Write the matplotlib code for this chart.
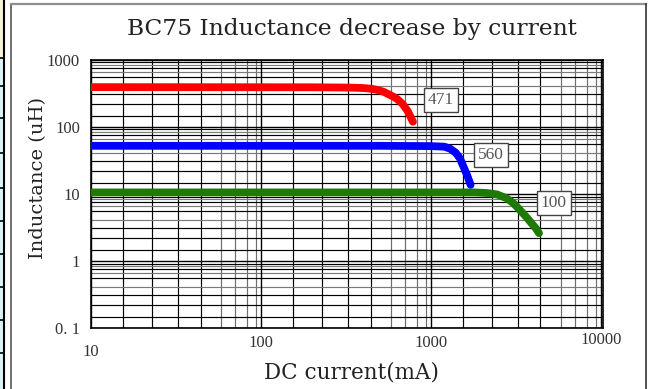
import matplotlib
matplotlib.use("Agg")
import matplotlib.pyplot as plt
from matplotlib.lines import Line2D
from matplotlib.patches import Rectangle
import matplotlib.transforms as mtransforms

# ---- data ----
red_x = [10, 200, 330, 400, 450, 490, 530, 580, 630, 680, 730, 784]
red_y = [390, 388, 384, 378, 368, 352, 330, 295, 262, 220, 172, 119]
blue_x = [10, 500, 1000, 1200, 1300, 1400, 1480, 1560, 1640, 1713]
blue_y = [52, 52, 51.5, 50.5, 47, 41, 34, 25, 18.5, 13.6]
green_x = [10, 1000, 1800, 2130, 2450, 2790, 3050, 3340, 3620, 3910, 4130, 4330]
green_y = [10.5, 10.5, 10.5, 10.3, 9.8, 8.6, 7.3, 5.75, 4.6, 3.65, 3.1, 2.59]
series_labels = ["471", "560", "100"]
label_pos = [(1146, 250), (2254, 38), (5297, 7.3)]

x_major = [10, 100, 1000, 10000]
x_major_labels = ["10", "100", "1000", "10000"]
y_major = [0.1, 1, 10, 100, 1000]
y_major_labels = ["0. 1", "1", "10", "100", "1000"]
grid_mult_x = [1.535, 2.275, 3.236, 4.416, 5.834, 7.047, 8.279, 9.311]
grid_mult_y = [1.466, 2.173, 3.069, 4.074, 5.495, 6.607, 7.499, 8.318, 9.12]

W, H = 654, 389
fig = plt.figure(figsize=(W / 100, H / 100), dpi=100)
fig.patch.set_facecolor("white")

# ---- page decorations (frame and left fragment) ----
def fx(px):
    return px / W

def fy(py):
    return 1 - py / H

fig.add_artist(Rectangle((0, fy(58)), fx(4), 58 / H, transform=fig.transFigure,
                         facecolor="#f4f4d8", edgecolor="none"))
fig.add_artist(Rectangle((0, 0), fx(4), fy(58), transform=fig.transFigure,
                         facecolor="#def3f3", edgecolor="none"))
fig.add_artist(Line2D([fx(4), fx(4)], [0, 1], transform=fig.transFigure, color="black", lw=1.5))
for yy in [58, 86, 118, 153, 188, 221, 254, 287, 320, 353]:
    fig.add_artist(Line2D([0, fx(4)], [fy(yy), fy(yy)], transform=fig.transFigure,
                          color="black", lw=1.2))
fig.add_artist(Line2D([fx(10.5), fx(10.5)], [0, fy(4)], transform=fig.transFigure,
                      color="#555555", lw=1.2))
fig.add_artist(Line2D([fx(10.5), fx(646)], [fy(4), fy(4)], transform=fig.transFigure,
                      color="#909090", lw=1.6))
fig.add_artist(Line2D([fx(645.5), fx(645.5)], [0, fy(4)], transform=fig.transFigure,
                      color="#333333", lw=1.2))

# ---- axes ----
ax = fig.add_axes([91 / W, 1 - 328 / H, (603 - 91) / W, (328 - 59.7) / H])
ax.set_xscale("log")
ax.set_yscale("log")
ax.set_xlim(10, 10300)
ax.set_ylim(0.1, 1000)

# grid
for d in [10, 100, 1000]:
    for i, m in enumerate(grid_mult_x):
        col = "black" if i < 4 else "#6e6e6e"
        ax.axvline(d * m, color=col, lw=0.85, zorder=1)
for d in [0.1, 1, 10, 100]:
    for i, m in enumerate(grid_mult_y):
        col = "black" if i < 3 or i % 2 == 0 else "#7a7a7a"
        ax.axhline(d * m, color=col, lw=0.85, zorder=1)
for v in x_major:
    ax.axvline(v, color="black", lw=1.0, zorder=1)
for v in y_major:
    ax.axhline(v, color="black", lw=1.0, zorder=1)

for s in ax.spines.values():
    s.set_color("black")
    s.set_linewidth(1.2)

ax.set_xticks(x_major)
ax.set_xticklabels(x_major_labels)
ax.set_yticks(y_major)
ax.set_yticklabels(y_major_labels)
ax.xaxis.set_minor_locator(matplotlib.ticker.NullLocator())
ax.yaxis.set_minor_locator(matplotlib.ticker.NullLocator())
ax.tick_params(length=0, labelsize=12)
ax.tick_params(axis="x", pad=5)
ax.tick_params(axis="y", pad=8)
for lab in ax.get_xticklabels() + ax.get_yticklabels():
    lab.set_fontfamily("Liberation Serif")
    lab.set_color("#333333")
# individual x label offsets (points) as in the reference
offs = [-6.5, 0, 0, 2]
for lab, o in zip(ax.get_xticklabels(), offs):
    lab.set_transform(lab.get_transform() + mtransforms.ScaledTranslation(0, o / 72, fig.dpi_scale_trans))

# curves
kw = dict(lw=5.6, solid_capstyle="round", solid_joinstyle="round", zorder=3)
ax.plot(red_x, red_y, color="#ff0000", **kw)
ax.plot(blue_x, blue_y, color="#0000ff", **kw)
ax.plot(green_x, green_y, color="#1f7a05", **kw)

for lab, (lx, ly) in zip(series_labels, label_pos):
    ax.text(lx, ly, lab, ha="center", va="center", fontsize=12.5, family="Liberation Serif",
            color="#555555", zorder=4,
            bbox=dict(boxstyle="square,pad=0.25", facecolor="white", edgecolor="#444444", lw=1.0))

fig.text(352 / W, 1 - 29 / H, "BC75 Inductance decrease by current", ha="center", va="center",
         fontsize=16.8, family="DejaVu Serif", color="#222222")
fig.text(38 / W, 1 - 178 / H, "Inductance (uH)", ha="center", va="center", rotation=90,
         fontsize=14, family="DejaVu Serif", color="#222222")
fig.text(352 / W, 1 - 372 / H, "DC current(mA)", ha="center", va="center",
         fontsize=15.5, family="DejaVu Serif", color="#222222")

fig.savefig("out.png", dpi=100)
